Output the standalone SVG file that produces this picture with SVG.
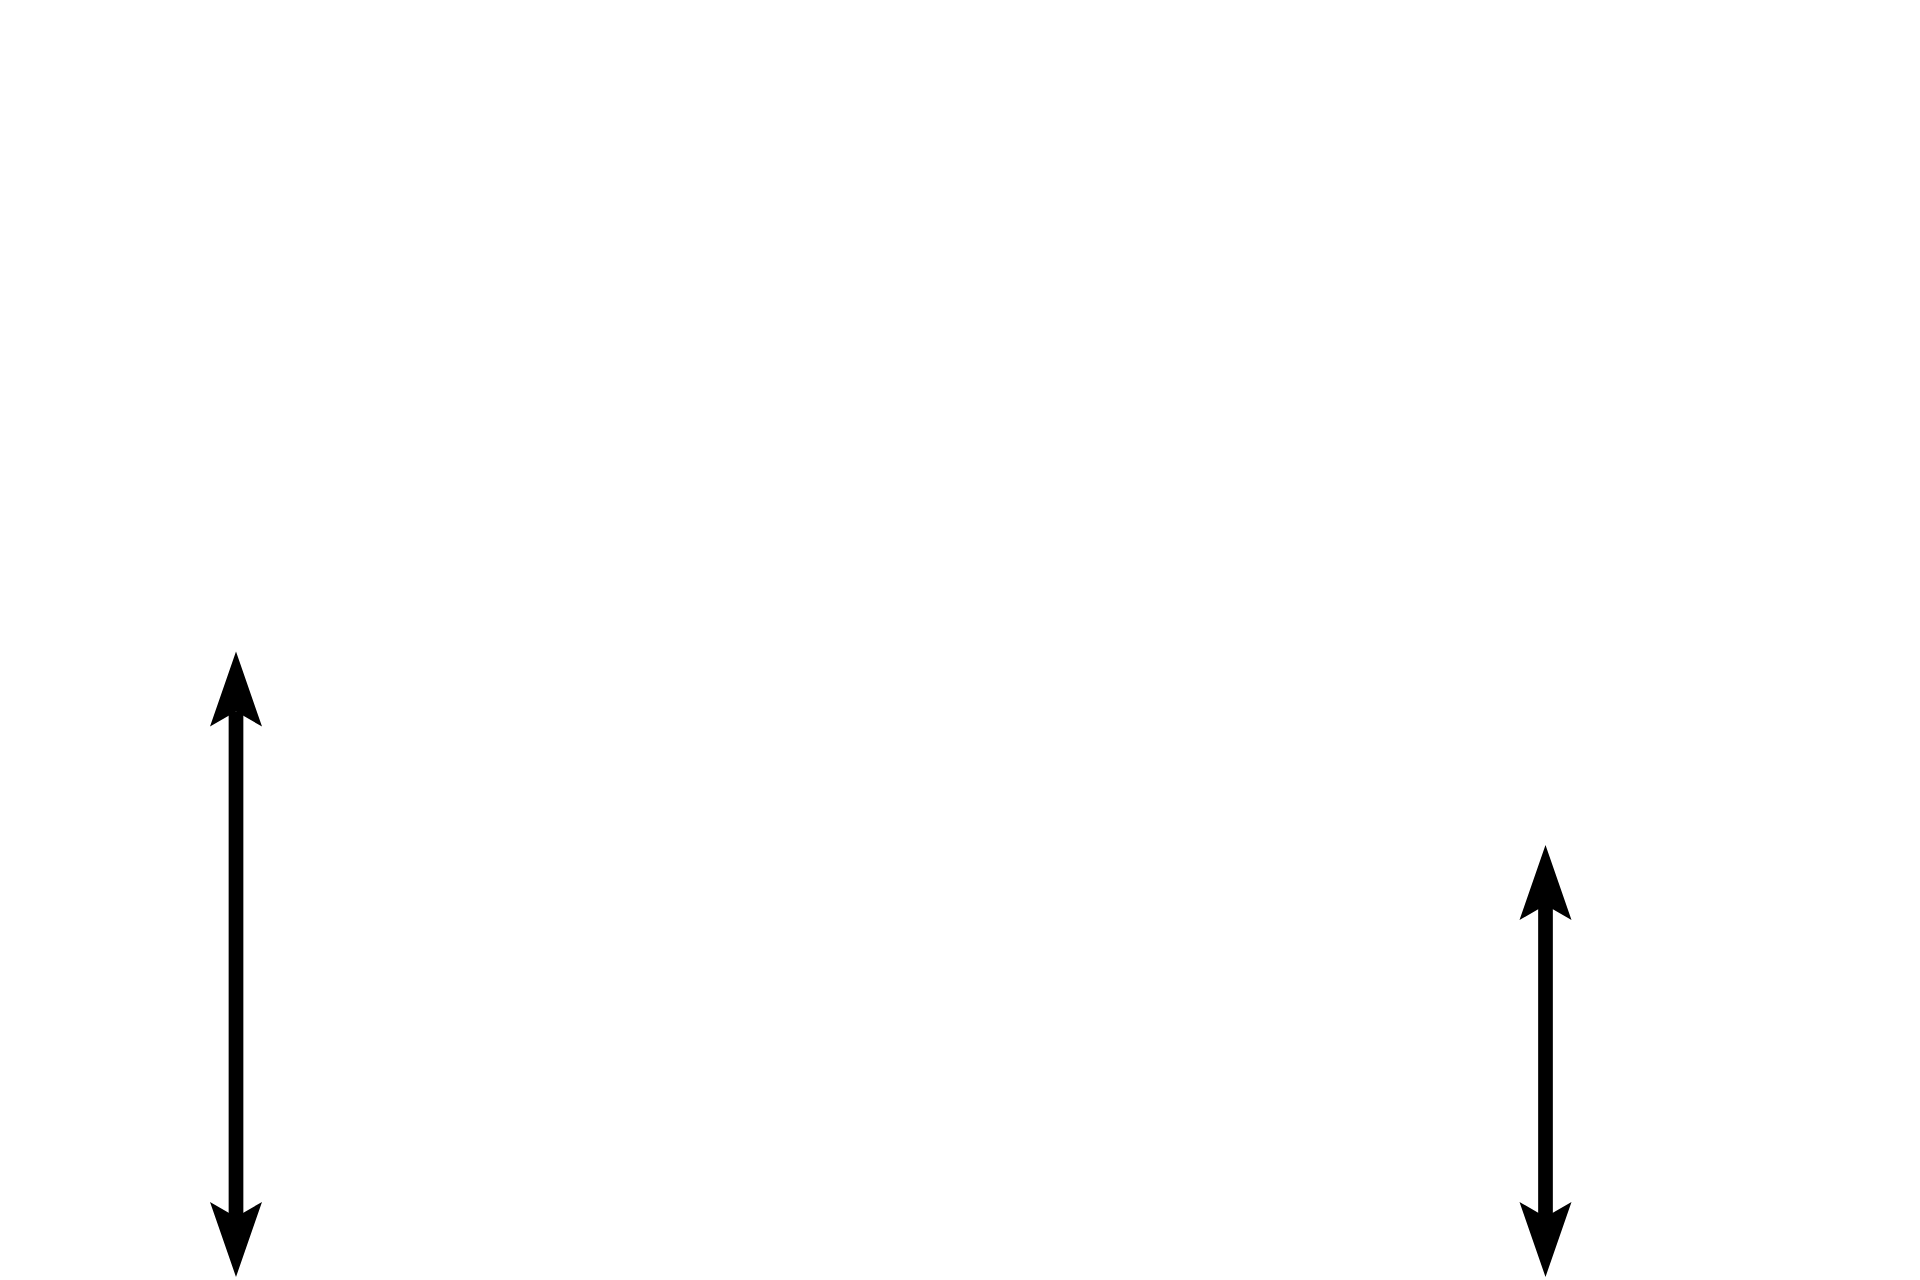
<svg xmlns="http://www.w3.org/2000/svg" width="1920" height="1280" viewBox="0 0 1920 1280">
  <defs>
    <marker id="head" markerUnits="userSpaceOnUse" viewBox="-16 -27 78 54" refX="0" refY="0" markerWidth="78" markerHeight="54" orient="auto-start-reverse" overflow="visible">
      <path d="M60,0 L-15,-26 L0,0 L-15,26 Z" fill="#000"/>
    </marker>
  </defs>
  <style>
    .conn { stroke: #000; stroke-width: 14.7; fill: none; marker-start: url(#head); marker-end: url(#head); }
  </style>
  <rect width="1920" height="1280" fill="#fff"/>
  <g id="connectors">
    <path class="conn" d="M236,711.5 L236,1217"/>
    <path class="conn" d="M1545.5,905 L1545.5,1217"/>
  </g>
</svg>
